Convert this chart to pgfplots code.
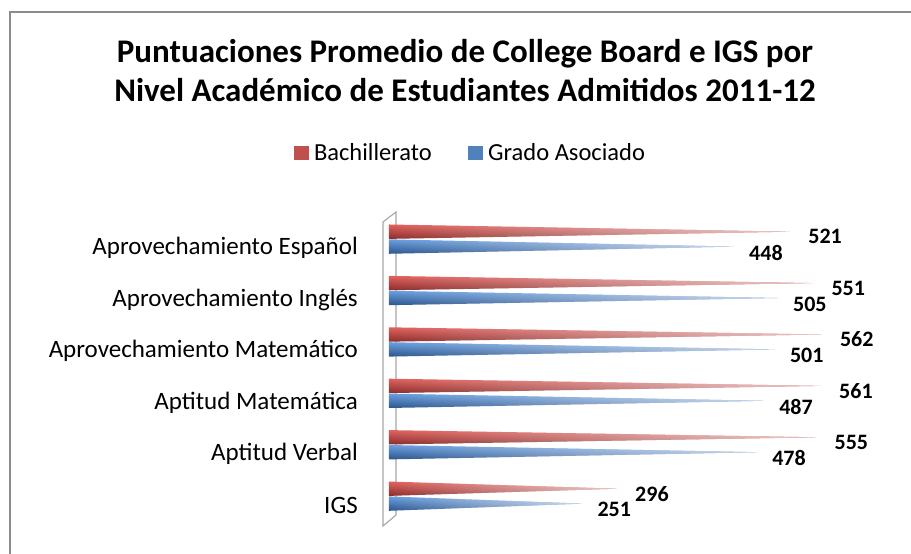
\documentclass[border=0pt]{standalone}
\usepackage{fontspec}
\setmainfont{Carlito}
\usepackage{pgfplots}
\pgfplotsset{compat=1.18}
\usetikzlibrary{fadings}
\definecolor{bred}{HTML}{CC4B46}
\definecolor{bredT}{HTML}{E0625E}
\definecolor{bredB}{HTML}{8A2C2A}
\definecolor{bblue}{HTML}{4785CF}
\definecolor{bblueT}{HTML}{6A9EE0}
\definecolor{bblueB}{HTML}{2A558C}
\definecolor{legred}{HTML}{C0504D}
\definecolor{legblue}{HTML}{4F81BD}
\definecolor{frame}{HTML}{8C8C8C}
\definecolor{wall}{HTML}{A6A6A6}
\tikzfading[name=tipfade, left color=transparent!100, middle color=transparent!100, right color=transparent!30]
\begin{document}
\begin{tikzpicture}
\useasboundingbox (0pt,0pt) rectangle (911pt,554pt);
% chart frame (top and left edges visible)
\draw[frame, line width=1.6pt] (10pt,0pt) -- (10pt,542pt) -- (911pt,542pt);
% title
\node[anchor=base, font=\fontsize{33}{39}\selectfont\bfseries] at (465pt,491pt) {Puntuaciones Promedio de College Board e IGS por};
\node[anchor=base, font=\fontsize{33}{39}\selectfont\bfseries] at (465pt,452pt) {Nivel Académico de Estudiantes Admitidos 2011-12};
% 3D wall
\draw[wall, line width=1.1pt] (396pt,342pt) -- (383pt,332pt) -- (383pt,28pt) -- (396pt,39pt) -- cycle;
\begin{axis}[
  at={(389pt,18pt)}, anchor=south west,
  scale only axis, width=462pt, height=329pt,
  xmin=0, xmax=600, ymin=-0.6, ymax=5.8,
  clip=false,
  axis line style={draw=none},
  xtick=\empty,
  ytick={0,1,2,3,4,5},
  yticklabels={IGS, Aptitud Verbal, Aptitud Matemática, Aprovechamiento Matemático, Aprovechamiento Inglés, Aprovechamiento Español},
  major tick length=0pt,
  yticklabel style={font=\fontsize{25}{29}\selectfont, inner sep=0pt, xshift=-31pt, anchor=east},
  /pgf/number format/assume math mode=true,
  legend style={at={(0.176,1.164)}, anchor=center, draw=none, fill=none,
    font=\fontsize{24.5}{28}\selectfont, legend columns=2,
    /tikz/every odd column/.append style={column sep=4pt},
    /tikz/every even column/.append style={column sep=34pt}},
  no markers,
]
% legend images
\addlegendimage{legend image code/.code={\fill[legred] (0pt,-6.5pt) rectangle (14pt,6.5pt);}}
\addlegendentry{Bachillerato}
\addlegendimage{legend image code/.code={\fill[legblue] (0pt,-6.5pt) rectangle (14pt,6.5pt);}}
\addlegendentry{Grado Asociado}
% ---- cone styles
\pgfplotsset{redcone/.style={forget plot, draw=none, top color=bredT, middle color=bred, bottom color=bredB}}
\pgfplotsset{bluecone/.style={forget plot, draw=none, top color=bblueT, middle color=bblue, bottom color=bblueB}}
\pgfplotsset{fadecone/.style={forget plot, draw=none, fill=white, path fading=tipfade}}
% Aprovechamiento Espanol k=5
\addplot[redcone] coordinates {(0,5.18) (521,5.32) (0,5.46)} -- cycle;
\addplot[fadecone] coordinates {(0,5.18) (521,5.32) (0,5.46)} -- cycle;
\addplot[bluecone] coordinates {(0,4.89) (448,5.03) (0,5.17)} -- cycle;
\addplot[fadecone] coordinates {(0,4.89) (448,5.03) (0,5.17)} -- cycle;
% Aprovechamiento Ingles k=4
\addplot[redcone] coordinates {(0,4.18) (551,4.32) (0,4.46)} -- cycle;
\addplot[fadecone] coordinates {(0,4.18) (551,4.32) (0,4.46)} -- cycle;
\addplot[bluecone] coordinates {(0,3.89) (505,4.03) (0,4.17)} -- cycle;
\addplot[fadecone] coordinates {(0,3.89) (505,4.03) (0,4.17)} -- cycle;
% Aprovechamiento Matematico k=3
\addplot[redcone] coordinates {(0,3.18) (562,3.32) (0,3.46)} -- cycle;
\addplot[fadecone] coordinates {(0,3.18) (562,3.32) (0,3.46)} -- cycle;
\addplot[bluecone] coordinates {(0,2.89) (501,3.03) (0,3.17)} -- cycle;
\addplot[fadecone] coordinates {(0,2.89) (501,3.03) (0,3.17)} -- cycle;
% Aptitud Matematica k=2
\addplot[redcone] coordinates {(0,2.18) (561,2.32) (0,2.46)} -- cycle;
\addplot[fadecone] coordinates {(0,2.18) (561,2.32) (0,2.46)} -- cycle;
\addplot[bluecone] coordinates {(0,1.89) (487,2.03) (0,2.17)} -- cycle;
\addplot[fadecone] coordinates {(0,1.89) (487,2.03) (0,2.17)} -- cycle;
% Aptitud Verbal k=1
\addplot[redcone] coordinates {(0,1.18) (555,1.32) (0,1.46)} -- cycle;
\addplot[fadecone] coordinates {(0,1.18) (555,1.32) (0,1.46)} -- cycle;
\addplot[bluecone] coordinates {(0,0.89) (478,1.03) (0,1.17)} -- cycle;
\addplot[fadecone] coordinates {(0,0.89) (478,1.03) (0,1.17)} -- cycle;
% IGS k=0
\addplot[redcone] coordinates {(0,0.18) (296,0.32) (0,0.46)} -- cycle;
\addplot[fadecone] coordinates {(0,0.18) (296,0.32) (0,0.46)} -- cycle;
\addplot[bluecone] coordinates {(0,-0.11) (251,0.03) (0,0.17)} -- cycle;
\addplot[fadecone] coordinates {(0,-0.11) (251,0.03) (0,0.17)} -- cycle;
% ---- value labels
\addplot[forget plot, only marks, mark=*, mark size=0pt, mark options={draw=none, fill=none},
  nodes near coords, point meta=x,
  nodes near coords style={anchor=center, xshift=35pt, yshift=-5pt, font=\fontsize{22}{26}\selectfont\bfseries}]
  coordinates {(521,5.32) (551,4.32) (562,3.32) (561,2.32) (555,1.32) (296,0.32)};
\addplot[forget plot, only marks, mark=*, mark size=0pt, mark options={draw=none, fill=none},
  nodes near coords, point meta=x,
  nodes near coords style={anchor=center, xshift=32pt, yshift=-6pt, font=\fontsize{22}{26}\selectfont\bfseries}]
  coordinates {(448,5.03) (505,4.03) (501,3.03) (487,2.03) (478,1.03) (251,0.03)};
\end{axis}
\end{tikzpicture}
\end{document}
